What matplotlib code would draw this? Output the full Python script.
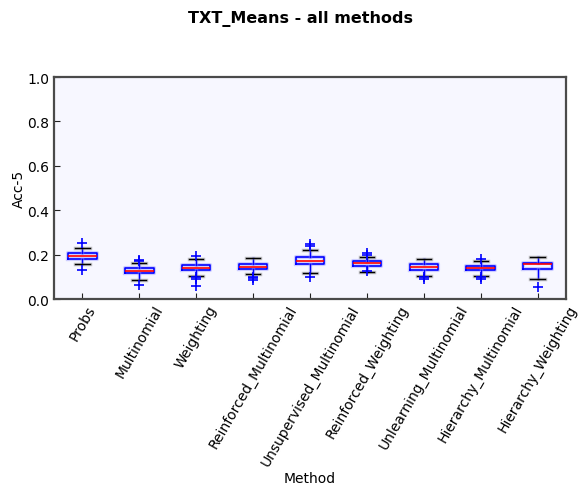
import matplotlib
matplotlib.use("Agg")
import matplotlib.pyplot as plt
import matplotlib.patheffects as pe

methods = ["Probs", "Multinomial", "Weighting", "Reinforced_Multinomial",
           "Unsupervised_Multinomial", "Reinforced_Weighting",
           "Unlearning_Multinomial", "Hierarchy_Multinomial", "Hierarchy_Weighting"]
med = [0.194, 0.126, 0.141, 0.144, 0.171, 0.161, 0.146, 0.140, 0.156]
q1 = [0.182, 0.116, 0.129, 0.134, 0.156, 0.147, 0.131, 0.129, 0.134]
q3 = [0.206, 0.138, 0.152, 0.158, 0.188, 0.170, 0.156, 0.147, 0.162]
whislo = [0.158, 0.087, 0.105, 0.113, 0.116, 0.120, 0.105, 0.105, 0.090]
whishi = [0.230, 0.164, 0.179, 0.183, 0.222, 0.188, 0.182, 0.171, 0.190]
fliers = [[0.252, 0.132], [0.177, 0.171, 0.063], [0.195, 0.098, 0.090, 0.057],
          [0.100, 0.095, 0.086], [0.248, 0.240, 0.100], [0.207, 0.199, 0.125],
          [0.098, 0.092], [0.180, 0.097, 0.090], [0.055]]

stats = []
for i, m in enumerate(methods):
    stats.append(dict(med=med[i], q1=q1[i], q3=q3[i], whislo=whislo[i],
                      whishi=whishi[i], fliers=fliers[i], label=m))

fig = plt.figure(figsize=(5.79, 4.85), dpi=100)
ax = fig.add_axes([54/579, 1-300/485, 512/579, 222/485])
ax.set_facecolor("#f7f7ff")
glow = [pe.withStroke(linewidth=3.0, foreground=(0.6, 0.6, 1.0, 0.45))]
bp = ax.bxp(stats, widths=0.5, patch_artist=False,
            boxprops=dict(color="blue", linewidth=1.2),
            medianprops=dict(color="red", linewidth=1.2),
            whiskerprops=dict(color="blue", linewidth=1.0, linestyle="-"),
            capprops=dict(color="black", linewidth=1.0),
            flierprops=dict(marker="+", markeredgecolor="blue", markersize=7,
                            markeredgewidth=1.2, linestyle="none"))
for b in bp["boxes"]:
    b.set_path_effects(glow)
for w in bp["whiskers"]:
    w.set_path_effects([pe.withStroke(linewidth=2.5, foreground=(0.6, 0.6, 1.0, 0.45))])
for c in bp["caps"]:
    c.set_path_effects([pe.withStroke(linewidth=2.5, foreground=(0.5, 0.5, 0.5, 0.45))])

ax.set_xlim(0.5, 9.5)
ax.set_ylim(0, 1)
ax.set_yticks([0.0, 0.2, 0.4, 0.6, 0.8, 1.0])
ax.set_xticks(range(1, 10))
ax.set_xticklabels(methods, rotation=60, ha="center", fontsize=10)
ax.tick_params(direction="in", length=4, labelsize=10, color="#222222")
ax.tick_params(axis="x", pad=2.5)
for s in ax.spines.values():
    s.set_color("#4a4a4a")
    s.set_linewidth(1.6)
ax.set_ylabel("Acc-5", fontsize=10, labelpad=1)
ax.set_xlabel("Method", fontsize=10)
ax.xaxis.set_label_coords(0.5, -0.775)
fig.text(301/579, 1-19/485, "TXT_Means - all methods", fontsize=11.5,
         fontweight="bold", ha="center", va="center")
fig.savefig("out.png", dpi=100)
